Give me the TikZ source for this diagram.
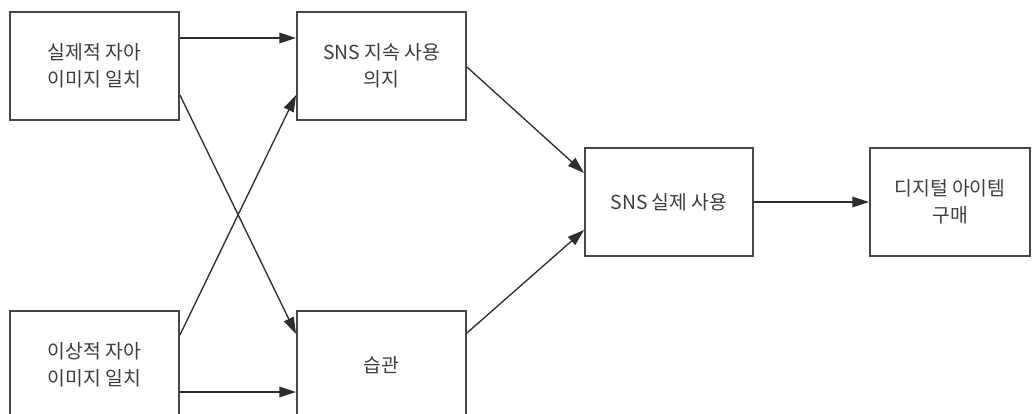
\documentclass[tikz,border=0pt]{standalone}
\usepackage{fontspec}
\setmainfont{Noto Sans CJK KR}
\usepackage{xcolor}
\usepackage{tikz}
\usetikzlibrary{arrows.meta}
\definecolor{boxline}{RGB}{70,70,70}
\definecolor{arrowline}{RGB}{45,45,45}
\definecolor{labeltext}{RGB}{60,60,60}

\begin{document}
\begin{tikzpicture}[x=0.75pt,y=-0.75pt,
    stage/.style={draw=boxline,line width=1.4pt,rectangle,align=center,
      minimum width=126.75pt,minimum height=81pt,inner sep=2pt,
      text=labeltext,font=\fontsize{14.5pt}{20.5pt}\selectfont},
    link/.style={draw=arrowline,line width=1pt,
      -{Triangle[length=12.5pt,width=8pt]}}]
  \useasboundingbox (0,0) rectangle (1032,414);
  % model boxes
  \node[stage] (real) at (94.5,66) {실제적 자아\\이미지 일치};
  \node[stage] (ideal) at (94.5,365) {이상적 자아\\이미지 일치};
  \node[stage] (intent) at (381.5,66) {SNS 지속 사용\\의지};
  \node[stage] (habit) at (381.5,365) {습관};
  \node[stage,minimum width=126pt] (use) at (669,202) {SNS 실제 사용};
  \node[stage,minimum width=120pt] (buy) at (950,202) {디지털 아이템\\구매};
  % paths
  \draw[link] ([yshift=21pt]real.east) -- ([yshift=21pt]intent.west);
  \draw[link] ([yshift=-21.75pt]real.east) -- ([yshift=23.25pt]habit.west);
  \draw[link] ([yshift=22.5pt]ideal.east) -- ([yshift=-21.75pt]intent.west);
  \draw[link] ([yshift=-20.25pt]ideal.east) -- ([yshift=-20.25pt]habit.west);
  \draw[link] ([yshift=-0.75pt]intent.east) -- ([yshift=21.75pt]use.west);
  \draw[link] ([yshift=24pt]habit.east) -- ([yshift=-21pt]use.west);
  \draw[link] (use.east) -- (buy.west);
\end{tikzpicture}
\end{document}
